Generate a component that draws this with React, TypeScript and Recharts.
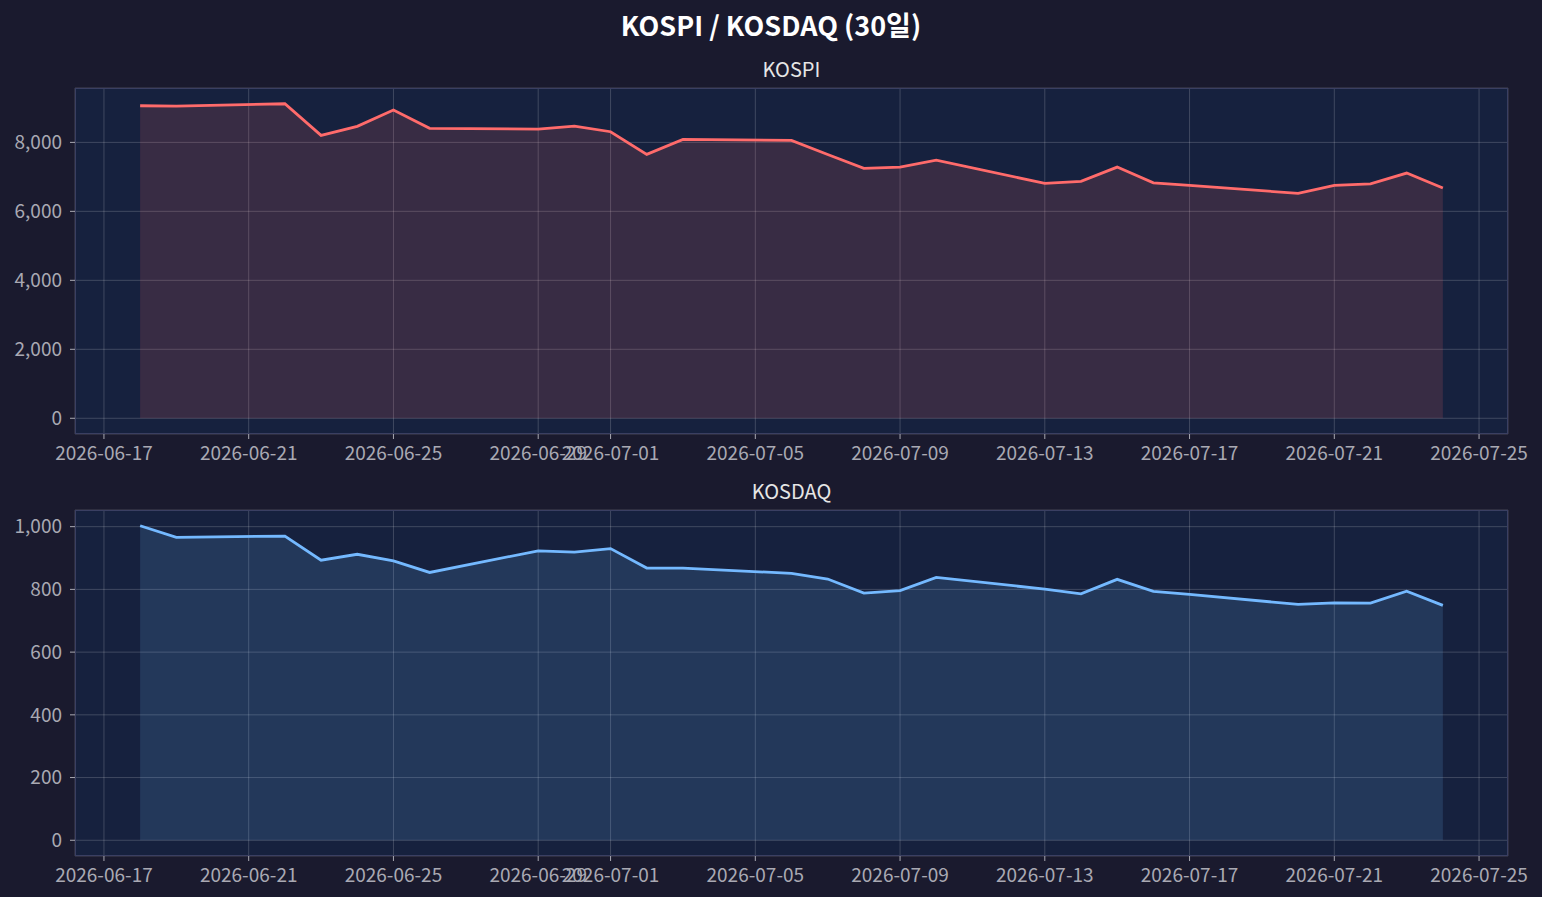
import React from "react";
import { AreaChart, Area, XAxis, YAxis, CartesianGrid } from "recharts";

// 거래일 (주말 제외)
const dates = [
  "2026-06-18", "2026-06-19", "2026-06-22", "2026-06-23", "2026-06-24",
  "2026-06-25", "2026-06-26", "2026-06-29", "2026-06-30", "2026-07-01",
  "2026-07-02", "2026-07-03", "2026-07-06", "2026-07-07", "2026-07-08",
  "2026-07-09", "2026-07-10", "2026-07-13", "2026-07-14", "2026-07-15",
  "2026-07-16", "2026-07-17", "2026-07-20", "2026-07-21", "2026-07-22",
  "2026-07-23", "2026-07-24",
];

const kospi = [
  9063, 9054, 9121, 8204, 8465, 8938, 8407, 8387, 8474, 8309,
  7653, 8088, 8059, 7650, 7246, 7284, 7487, 6811, 6869, 7284,
  6828, 6753, 6521, 6753, 6799, 7110, 6675,
];

const kosdaq = [
  1003, 966, 970, 893, 912, 891, 854, 923, 919, 930,
  868, 868, 851, 833, 788, 796, 838, 801, 786, 832,
  794, 784, 752, 757, 756, 794, 749,
];

const xTickLabels = [
  "2026-06-17", "2026-06-21", "2026-06-25", "2026-06-29", "2026-07-01",
  "2026-07-05", "2026-07-09", "2026-07-13", "2026-07-17", "2026-07-21",
  "2026-07-25",
];

const kospiTicks = [0, 2000, 4000, 6000, 8000];
const kosdaqTicks = [0, 200, 400, 600, 800, 1000];

const FONT = "'Noto Sans CJK KR', 'Noto Sans', sans-serif";
const BG = "#1a1a2e";
const AX_BG = "#16213e";

const toDay = (s: string) => {
  const [y, m, d] = s.split("-").map(Number);
  return Date.UTC(y, m - 1, d) / 86400000;
};
const fmtDay = (v: number) =>
  new Date(Math.round(v) * 86400000).toISOString().slice(0, 10);

const days = dates.map(toDay);
const xTicks = xTickLabels.map(toDay);
// matplotlib 기본 5% 여백
const span = days[days.length - 1] - days[0];
const xDomain = [days[0] - span * 0.05, days[days.length - 1] + span * 0.05];

const padDomain = (vals: number[]) => {
  const hi = Math.max(...vals);
  return [-hi * 0.05, hi * 1.05];
};

type PanelProps = {
  title: string;
  values: number[];
  color: string;
  ticks: number[];
  top: number;
  plotTop: number;
};

const W = 1542;
const H = 480;
const PLOT_LEFT = 75;
const PLOT_RIGHT = 1508;
const PLOT_H = 346;
const X_AXIS_H = 36;
const Y_AXIS_W = 60;

const Panel: React.FC<PanelProps> = ({ title, values, color, ticks, top, plotTop }) => {
  const data = days.map((d, i) => ({ day: d, v: values[i] }));
  const marginTop = plotTop - top;
  const marginBottom = H - (marginTop + PLOT_H) - X_AXIS_H;
  const tickStyle = { fill: "#a9a9b3", fontSize: 19, fontFamily: FONT };

  return (
    <>
      <div
        style={{
          position: "absolute",
          left: PLOT_LEFT,
          width: PLOT_RIGHT - PLOT_LEFT,
          top: plotTop - 31,
          textAlign: "center",
          color: "#e6e6e6",
          fontSize: 20,
          lineHeight: "24px",
          fontFamily: FONT,
        }}
      >
        {title}
      </div>
      <div style={{ position: "absolute", left: 0, top }}>
        <AreaChart
          width={W}
          height={H}
          data={data}
          margin={{
            top: marginTop,
            right: W - PLOT_RIGHT,
            left: PLOT_LEFT - Y_AXIS_W,
            bottom: marginBottom,
          }}
        >
          <CartesianGrid fill={AX_BG} stroke="#ffffff" strokeOpacity={0.18} />
          <XAxis
            dataKey="day"
            type="number"
            domain={xDomain}
            ticks={xTicks}
            interval={0}
            allowDataOverflow
            height={X_AXIS_H}
            tickFormatter={fmtDay}
            tick={tickStyle}
            tickSize={5}
            tickMargin={8}
            tickLine={{ stroke: "#a9a9b3" }}
            axisLine={false}
          />
          <YAxis
            type="number"
            domain={padDomain(values)}
            ticks={ticks}
            interval={0}
            allowDataOverflow
            width={Y_AXIS_W}
            tickFormatter={(v: number) => v.toLocaleString("en-US")}
            tick={tickStyle}
            tickSize={5}
            tickMargin={8}
            tickLine={{ stroke: "#a9a9b3" }}
            axisLine={false}
          />
          <Area
            type="linear"
            dataKey="v"
            stroke={color}
            strokeWidth={2.8}
            fill={color}
            fillOpacity={0.15}
            baseValue={0}
            dot={false}
            activeDot={false}
            isAnimationActive={false}
          />
        </AreaChart>
      </div>
      <div
        style={{
          position: "absolute",
          left: PLOT_LEFT,
          top: plotTop,
          width: PLOT_RIGHT - PLOT_LEFT,
          height: PLOT_H,
          border: "1px solid #3a3f62",
          boxSizing: "border-box",
          pointerEvents: "none",
        }}
      />
    </>
  );
};

export default function App() {
  return (
    <div
      style={{
        position: "absolute",
        left: 0,
        top: 0,
        width: W,
        height: 897,
        background: BG,
        fontFamily: FONT,
        overflow: "hidden",
      }}
    >
      <div
        style={{
          position: "absolute",
          left: 0,
          width: W,
          top: 7,
          textAlign: "center",
          color: "#ffffff",
          fontSize: 27,
          lineHeight: "36px",
          fontWeight: 700,
          fontFamily: FONT,
        }}
      >
        KOSPI / KOSDAQ (30일)
      </div>
      <Panel title="KOSPI" values={kospi} color="#ff6b6b" ticks={kospiTicks} top={0} plotTop={88} />
      <Panel title="KOSDAQ" values={kosdaq} color="#74b9ff" ticks={kosdaqTicks} top={430} plotTop={510} />
    </div>
  );
}
